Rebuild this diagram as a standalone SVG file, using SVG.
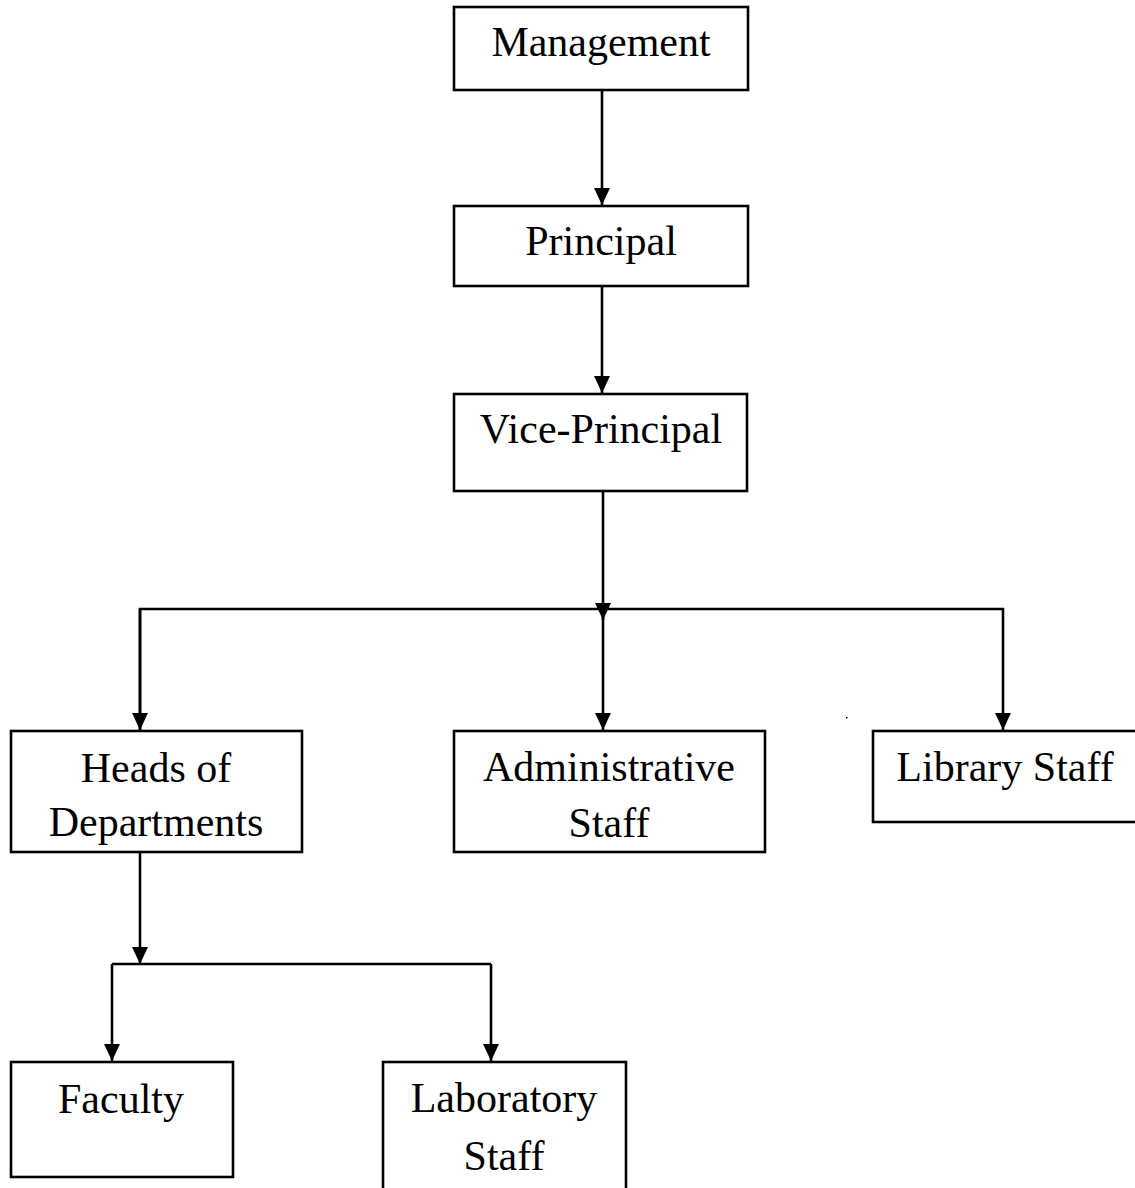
<svg xmlns="http://www.w3.org/2000/svg" width="1135" height="1188" viewBox="0 0 1135 1188">
<style>
.box{fill:#fff;stroke:#000;stroke-width:2.6}
.lbl{font-family:"Liberation Serif","Times New Roman",serif;font-size:42px;fill:#000;text-anchor:middle}
.ln{fill:none;stroke:#000;stroke-width:2.6}
</style>
<defs>
<marker id="ah" markerUnits="userSpaceOnUse" markerWidth="18" markerHeight="18" viewBox="0 0 18 18" refX="17" refY="9" orient="auto">
<path d="M0,1 L17,9 L0,17 Z" fill="#000"/>
</marker>
</defs>
<rect width="1135" height="1188" fill="#fff"/>
<g id="connectors">
<line class="ln" x1="602" y1="90" x2="602" y2="205" marker-end="url(#ah)"/>
<line class="ln" x1="602" y1="286" x2="602" y2="393" marker-end="url(#ah)"/>
<line class="ln" x1="603" y1="491" x2="603" y2="620" marker-end="url(#ah)"/>
<polyline class="ln" points="140,731 140,609 1003,609 1003,730" marker-end="url(#ah)"/>
<line class="ln" x1="140" y1="609" x2="140" y2="730" marker-end="url(#ah)"/>
<line class="ln" x1="603" y1="609" x2="603" y2="730" marker-end="url(#ah)"/>
<line class="ln" x1="140" y1="853" x2="140" y2="964" marker-end="url(#ah)"/>
<polyline class="ln" points="112,964 491,964"/>
<line class="ln" x1="112" y1="964" x2="112" y2="1061" marker-end="url(#ah)"/>
<line class="ln" x1="491" y1="964" x2="491" y2="1061" marker-end="url(#ah)"/>
<rect x="846" y="717" width="1.5" height="1.5" fill="#000"/>
</g>
<g id="management"><rect class="box" x="454" y="7" width="294" height="83"/><text class="lbl" x="601" y="56">Management</text></g>
<g id="principal"><rect class="box" x="454" y="206" width="294" height="80"/><text class="lbl" x="601" y="255">Principal</text></g>
<g id="vice-principal"><rect class="box" x="454" y="394" width="293" height="97"/><text class="lbl" x="601" y="443">Vice-Principal</text></g>
<g id="heads"><rect class="box" x="11" y="731" width="291" height="121"/><text class="lbl" x="156" y="782">Heads of</text><text class="lbl" x="156" y="836">Departments</text></g>
<g id="admin"><rect class="box" x="454" y="731" width="311" height="121"/><text class="lbl" x="609" y="781">Administrative</text><text class="lbl" x="609" y="837">Staff</text></g>
<g id="library"><rect class="box" x="873" y="731" width="270" height="91"/><text class="lbl" x="1005" y="781">Library Staff</text></g>
<g id="faculty"><rect class="box" x="11" y="1062" width="222" height="115"/><text class="lbl" x="121" y="1113">Faculty</text></g>
<g id="laboratory"><rect class="box" x="383" y="1062" width="243" height="140"/><text class="lbl" x="504" y="1112">Laboratory</text><text class="lbl" x="504" y="1170">Staff</text></g>
</svg>
